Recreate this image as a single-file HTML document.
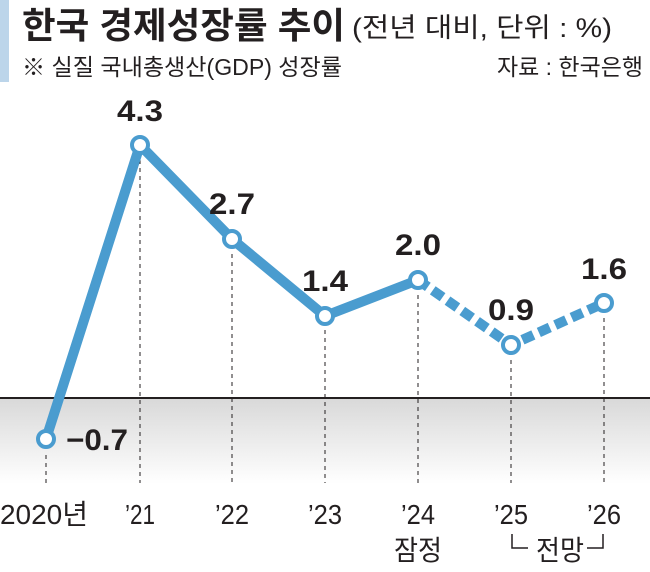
<!DOCTYPE html><html><head><meta charset="utf-8"><style>
body{margin:0;width:650px;height:567px;background:#fff;overflow:hidden;font-family:"Liberation Sans","Noto Sans CJK KR",sans-serif}
</style></head><body>
<svg width="650" height="567" xmlns="http://www.w3.org/2000/svg" style="font-family:'Liberation Sans','Noto Sans CJK KR',sans-serif">
<defs><linearGradient id="g" x1="0" y1="0" x2="0" y2="1"><stop offset="0" stop-color="#d9d9d9"/><stop offset="1" stop-color="#fff"/></linearGradient></defs>
<rect x="0" y="0" width="9" height="82" fill="#bcd5ea"/>
<text x="22" y="38" font-size="36" font-weight="bold" fill="#231f20" textLength="323" lengthAdjust="spacingAndGlyphs">한국 경제성장률 추이</text>
<text x="352" y="37" font-size="27" fill="#231f20" textLength="260" lengthAdjust="spacingAndGlyphs">(전년 대비, 단위 : %)</text>
<text x="22" y="75" font-size="23" fill="#231f20" textLength="320" lengthAdjust="spacingAndGlyphs">※ 실질 국내총생산(GDP) 성장률</text>
<text x="497" y="75" font-size="23" fill="#231f20" textLength="146" lengthAdjust="spacingAndGlyphs">자료 : 한국은행</text>
<rect x="0" y="399" width="650" height="85" fill="url(#g)"/>
<line x1="0" y1="398" x2="650" y2="398" stroke="#231f20" stroke-width="2"/>
<g stroke="#231f20" stroke-width="1" stroke-dasharray="4,4">
<line x1="46" y1="455" x2="46" y2="483"/>
<line x1="140" y1="160" x2="140" y2="483"/>
<line x1="232" y1="254" x2="232" y2="483"/>
<line x1="325" y1="330" x2="325" y2="483"/>
<line x1="418" y1="295" x2="418" y2="483"/>
<line x1="511" y1="360" x2="511" y2="483"/>
<line x1="604" y1="318" x2="604" y2="483"/>
</g>
<polyline points="46,439 140,145 232,239 325,316 418,280" fill="none" stroke="#4a9ccf" stroke-width="10" stroke-linejoin="round"/>
<polyline points="418,280 511,345 604,303" fill="none" stroke="#4a9ccf" stroke-width="10" stroke-dasharray="12,6"/>
<g fill="#fff" stroke="#4a9ccf" stroke-width="4">
<circle cx="46" cy="439" r="8"/><circle cx="140" cy="145" r="8"/><circle cx="232" cy="239" r="8"/><circle cx="325" cy="316" r="8"/><circle cx="418" cy="280" r="8"/><circle cx="511" cy="345" r="8"/><circle cx="604" cy="303" r="8"/>
</g>
<g font-size="30" font-weight="bold" fill="#231f20" text-anchor="middle">
<text x="140" y="121" textLength="46" lengthAdjust="spacingAndGlyphs">4.3</text>
<text x="232" y="214" textLength="46" lengthAdjust="spacingAndGlyphs">2.7</text>
<text x="325" y="291" textLength="46" lengthAdjust="spacingAndGlyphs">1.4</text>
<text x="418" y="255" textLength="46" lengthAdjust="spacingAndGlyphs">2.0</text>
<text x="511" y="320" textLength="46" lengthAdjust="spacingAndGlyphs">0.9</text>
<text x="604" y="279" textLength="46" lengthAdjust="spacingAndGlyphs">1.6</text>
<text x="97" y="450" textLength="62" lengthAdjust="spacingAndGlyphs">−0.7</text>
</g>
<g font-size="28" fill="#231f20" text-anchor="middle">
<text x="44" y="524" textLength="88" lengthAdjust="spacingAndGlyphs">2020년</text>
<text x="140" y="524" textLength="30" lengthAdjust="spacingAndGlyphs">’21</text>
<text x="232" y="524" textLength="34" lengthAdjust="spacingAndGlyphs">’22</text>
<text x="325" y="524" textLength="34" lengthAdjust="spacingAndGlyphs">’23</text>
<text x="418" y="524" textLength="34" lengthAdjust="spacingAndGlyphs">’24</text>
<text x="511" y="524" textLength="34" lengthAdjust="spacingAndGlyphs">’25</text>
<text x="604" y="524" textLength="34" lengthAdjust="spacingAndGlyphs">’26</text>
<text x="418" y="560" textLength="48" lengthAdjust="spacingAndGlyphs">잠정</text>
<text x="560" y="560" textLength="48" lengthAdjust="spacingAndGlyphs">전망</text>
</g>
<path d="M512,534 V548 H528 M603,534 V548 H587" fill="none" stroke="#231f20" stroke-width="1.5"/>
</svg>
</body></html>
